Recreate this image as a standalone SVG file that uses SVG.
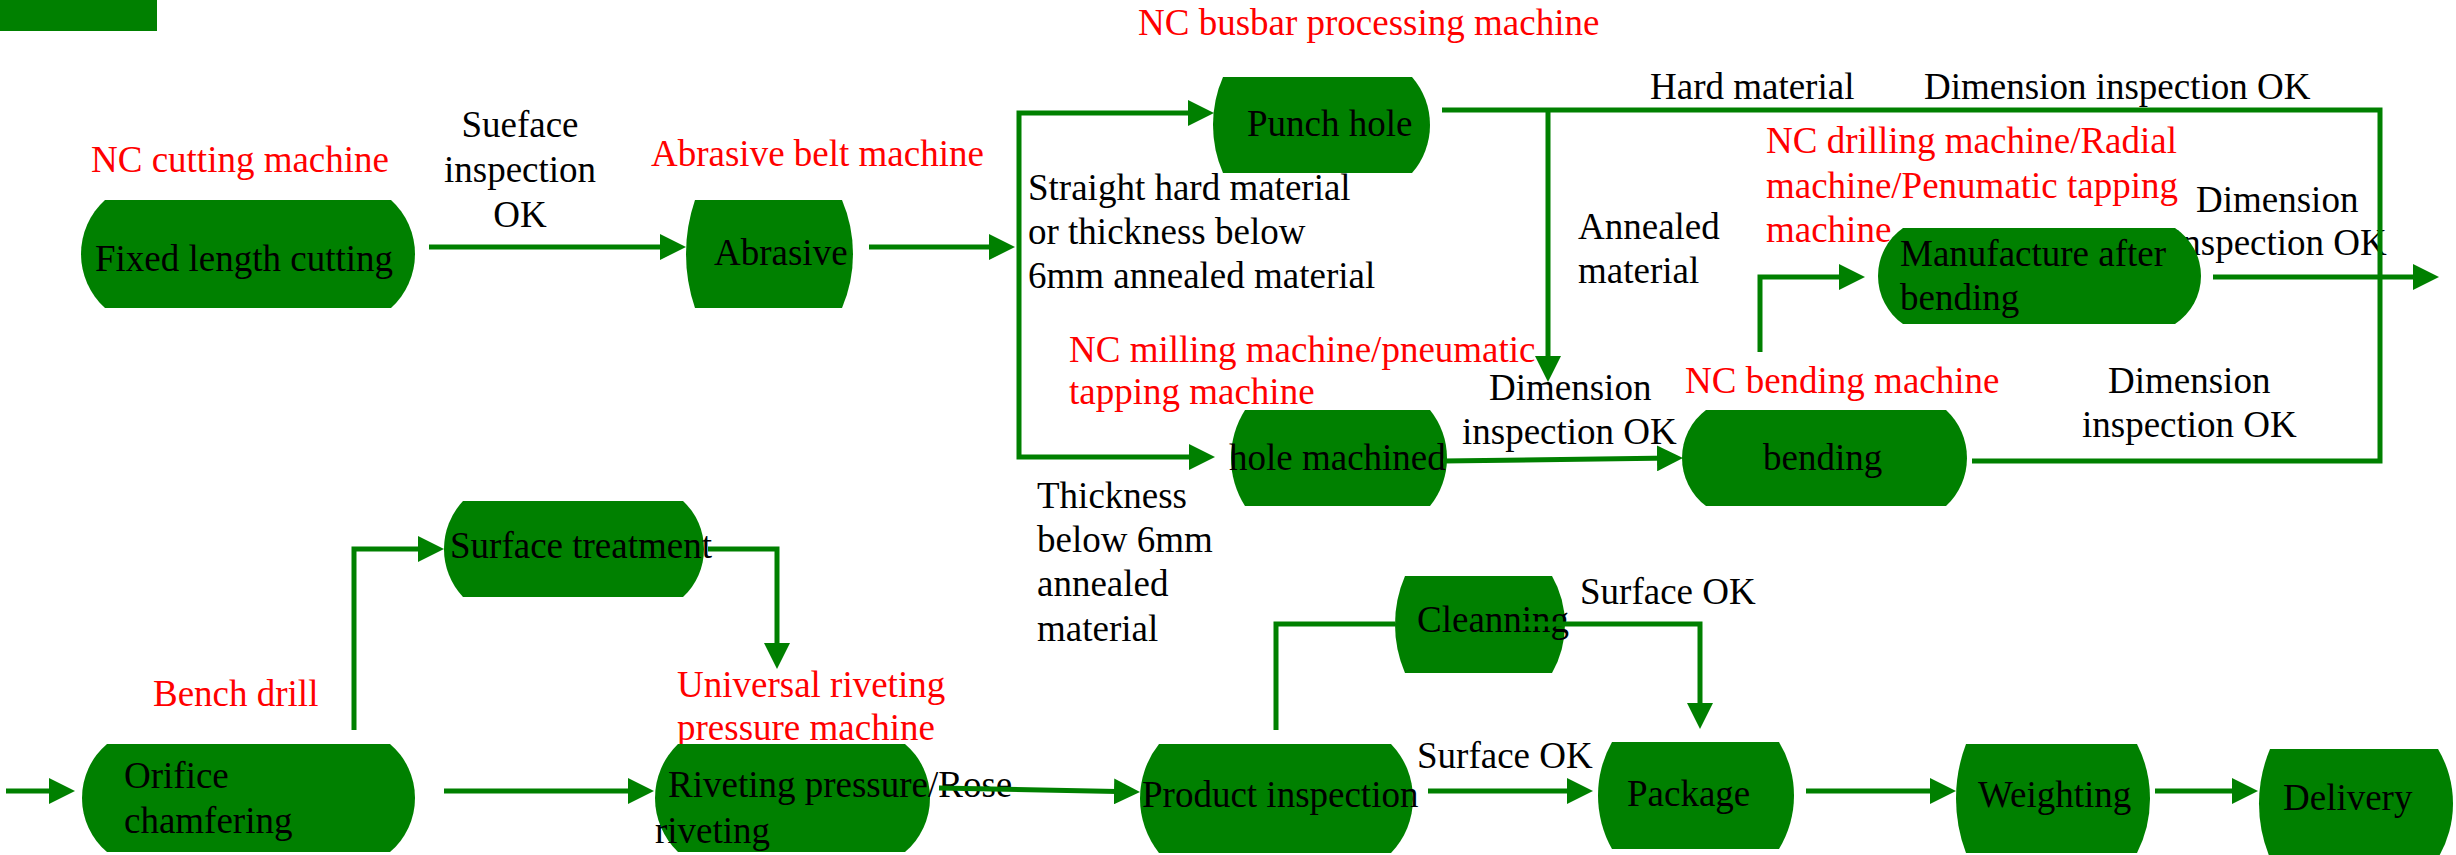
<svg xmlns="http://www.w3.org/2000/svg" width="2456" height="855" viewBox="0 0 2456 855">
<style>
.n{fill:#008000;}
.t{font-family:"Liberation Serif","Times New Roman",serif;font-size:37px;fill:#000;}
.r{font-family:"Liberation Serif","Times New Roman",serif;font-size:37px;fill:#ff0000;}
.c{fill:none;stroke:#008000;stroke-width:5;}
.a{marker-end:url(#ah);}
</style>
<defs>
<marker id="ah" markerUnits="userSpaceOnUse" markerWidth="26" markerHeight="26" refX="16" refY="13" orient="auto" viewBox="0 0 26 26">
<path d="M0,0 L26,13 L0,26 Z" fill="#008000"/>
</marker>
</defs>
<rect x="0" y="0" width="157" height="31" fill="#008000"/>

<g id="labels">
<text class="r" x="91" y="172">NC cutting machine</text>
<text class="t" x="520" y="137" text-anchor="middle">Sueface</text>
<text class="t" x="520" y="182" text-anchor="middle">inspection</text>
<text class="t" x="520" y="227" text-anchor="middle">OK</text>
<text class="r" x="651" y="166">Abrasive belt machine</text>
<text class="r" x="1138" y="35">NC busbar processing machine</text>
<text class="t" x="1650" y="99">Hard material</text>
<text class="t" x="1924" y="99">Dimension inspection OK</text>
<text class="t" x="1028" y="200">Straight hard material</text>
<text class="t" x="1028" y="244">or thickness below</text>
<text class="t" x="1028" y="288">6mm annealed material</text>
<text class="t" x="1578" y="239">Annealed</text>
<text class="t" x="1578" y="283">material</text>
<text class="r" x="1766" y="153">NC drilling machine/Radial</text>
<text class="r" x="1766" y="198">machine/Penumatic tapping</text>
<text class="r" x="1766" y="242">machine</text>
<text class="t" x="2196" y="212">Dimension</text>
<text class="t" x="2172" y="255">inspection OK</text>
<text class="r" x="1069" y="362">NC milling machine/pneumatic</text>
<text class="r" x="1069" y="404">tapping machine</text>
<text class="t" x="1489" y="400">Dimension</text>
<text class="t" x="1462" y="444">inspection OK</text>
<text class="r" x="1685" y="393">NC bending machine</text>
<text class="t" x="2108" y="393">Dimension</text>
<text class="t" x="2082" y="437">inspection OK</text>
<text class="t" x="1037" y="508">Thickness</text>
<text class="t" x="1037" y="552">below 6mm</text>
<text class="t" x="1037" y="596">annealed</text>
<text class="t" x="1037" y="641">material</text>
<text class="r" x="153" y="706">Bench drill</text>
<text class="r" x="677" y="697">Universal riveting</text>
<text class="r" x="677" y="740">pressure machine</text>
<text class="t" x="1580" y="604">Surface OK</text>
<text class="t" x="1417" y="768">Surface OK</text>
</g>

<g id="nodes">
<g id="n-fixed">
<path class="n" d="M105,200 H391 A72.75,72.75 0 0 1 391,308 H105 A72.75,72.75 0 0 1 105,200 Z"/>
<text class="t" x="95" y="271">Fixed length cutting</text>
</g>
<g id="n-abrasive">
<path class="n" d="M695,200 H842 A138,138 0 0 1 842,308 H695 A166.5,166.5 0 0 1 695,200 Z"/>
<text class="t" x="714" y="265">Abrasive</text>
</g>
<g id="n-punch">
<path class="n" d="M1223,77 H1412 A73,73 0 0 1 1412,173 H1223 A120.2,120.2 0 0 1 1223,77 Z"/>
<text class="t" x="1247" y="136">Punch hole</text>
</g>
<g id="n-hole">
<path class="n" d="M1245,410 H1430 A76.3,76.3 0 0 1 1430,506 H1245 A89.3,89.3 0 0 1 1245,410 Z"/>
<text class="t" x="1229" y="470">hole machined</text>
</g>
<g id="n-bending">
<path class="n" d="M1706,410 H1946 A65.4,65.4 0 0 1 1946,506 H1706 A60,60 0 0 1 1706,410 Z"/>
<text class="t" x="1763" y="470">bending</text>
</g>
<g id="n-manufacture">
<path class="n" d="M1903,228 H2175 A57.3,57.3 0 0 1 2175,324 H1903 A58.6,58.6 0 0 1 1903,228 Z"/>
<text class="t" x="1900" y="266">Manufacture after</text>
<text class="t" x="1900" y="310">bending</text>
</g>
<g id="n-surface">
<path class="n" d="M463,501 H683 A65.4,65.4 0 0 1 683,597 H463 A70.1,70.1 0 0 1 463,501 Z"/>
<text class="t" x="450" y="558">Surface treatment</text>
</g>
<g id="n-orifice">
<path class="n" d="M107,744 H390 A70.8,70.8 0 0 1 390,852 H107 A70.8,70.8 0 0 1 107,744 Z"/>
<text class="t" x="124" y="788">Orifice</text>
<text class="t" x="124" y="833">chamfering</text>
</g>
<g id="n-riveting">
<path class="n" d="M678,744 H905 A70.8,70.8 0 0 1 905,852 H678 A74.9,74.9 0 0 1 678,744 Z"/>
<text class="t" x="668" y="797">Riveting pressure/Rose</text>
<text class="t" x="655" y="843">riveting</text>
</g>
<g id="n-product">
<path class="n" d="M1159,744 H1391 A78.5,78.5 0 0 1 1391,853 H1159 A87.7,87.7 0 0 1 1159,744 Z"/>
<text class="t" x="1142" y="807">Product inspection</text>
</g>
<g id="n-cleanning">
<path class="n" d="M1405,576 H1552 A97,97 0 0 1 1552,673 H1405 A122.6,122.6 0 0 1 1405,576 Z"/>
<text class="t" x="1417" y="632">Cleanning</text>
</g>
<g id="n-package">
<path class="n" d="M1612,742 H1779 A102.9,102.9 0 0 1 1779,849 H1612 A109.2,109.2 0 0 1 1612,742 Z"/>
<text class="t" x="1627" y="806">Package</text>
</g>
<g id="n-weighting">
<path class="n" d="M1966,744 H2137 A120.7,120.7 0 0 1 2137,853 H1966 A153.5,153.5 0 0 1 1966,744 Z"/>
<text class="t" x="1978" y="807">Weighting</text>
</g>
<g id="n-delivery">
<path class="n" d="M2270,749 H2438 A106.5,106.5 0 0 1 2438,858 H2270 A140.5,140.5 0 0 1 2270,749 Z"/>
<text class="t" x="2283" y="810">Delivery</text>
</g>
</g>

<g id="connectors">
<path class="c a" d="M429,247 H676"/>
<path class="c a" d="M869,247 H1005"/>
<path class="c a" d="M1019,285 V113 H1204"/>
<path class="c a" d="M1019,285 V457 H1205"/>
<path class="c" d="M1442,110 H2380 V461 H1972"/>
<path class="c a" d="M1548,110 V372"/>
<path class="c a" d="M1760,352 V277 H1855"/>
<path class="c a" d="M2213,277 H2429"/>
<path class="c a" d="M1443,461 L1673,458.1"/>
<path class="c a" d="M6,791 H65"/>
<path class="c a" d="M444,791 H644"/>
<path class="c a" d="M939,788 L1130,791.8"/>
<path class="c a" d="M354,730 V549 H434"/>
<path class="c a" d="M708,549 H777 V659"/>
<path class="c a" d="M1428,791 H1583"/>
<path class="c" d="M1276,730 V624 H1395"/>
<path class="c a" d="M1523,624 H1700 V719"/>
<path class="c a" d="M1806,791 H1946"/>
<path class="c a" d="M2155,791 H2248"/>
</g>
</svg>
